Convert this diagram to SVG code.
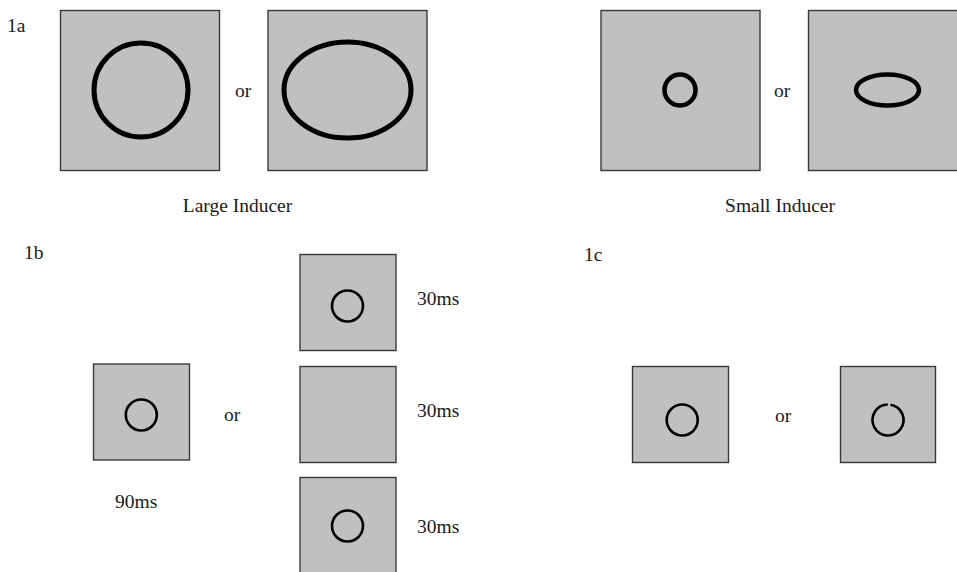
<svg xmlns="http://www.w3.org/2000/svg" width="957" height="572" viewBox="0 0 957 572">
<style>
.bg{fill:#ffffff}
.box{fill:#c0c0c0;stroke:#3a3a3a;stroke-width:1.4}
.thick{fill:none;stroke:#000;stroke-width:5}
.mid{fill:none;stroke:#000;stroke-width:4.5}
.thin{fill:none;stroke:#000;stroke-width:2.6}
text{font-family:"Liberation Serif","Times New Roman",serif;font-size:19.5px;fill:#1a1a1a}
</style>
<rect class="bg" x="0" y="0" width="957" height="572"/>
<g id="labels">
<text x="7" y="32">1a</text>
<text x="24" y="259">1b</text>
<text x="584" y="261">1c</text>
<text x="237.5" y="212" text-anchor="middle">Large Inducer</text>
<text x="780" y="212" text-anchor="middle">Small Inducer</text>
</g>
<g id="large-circle">
<rect class="box" x="60.5" y="10.5" width="159" height="160"/>
<circle class="thick" cx="141" cy="90" r="47"/>
</g>
<text x="235" y="97">or</text>
<g id="large-ellipse">
<rect class="box" x="268" y="10.5" width="159" height="160"/>
<ellipse class="thick" cx="347.5" cy="90" rx="63.5" ry="48"/>
</g>
<g id="small-circle">
<rect class="box" x="601" y="10.5" width="159" height="160"/>
<circle class="mid" cx="680" cy="90" r="15.5"/>
</g>
<text x="774" y="97">or</text>
<g id="small-ellipse">
<rect class="box" x="808.5" y="10.5" width="160" height="160"/>
<ellipse class="mid" cx="887.5" cy="90" rx="31.5" ry="15.5"/>
</g>
<g id="b-90ms">
<rect class="box" x="93.5" y="364" width="96" height="96"/>
<circle class="thin" cx="141.3" cy="415" r="15.5"/>
<text x="115" y="508">90ms</text>
</g>
<text x="224" y="421">or</text>
<g id="b-30ms-1">
<rect class="box" x="300" y="254.5" width="96" height="96"/>
<circle class="thin" cx="347.5" cy="306" r="15.5"/>
<text x="417" y="305">30ms</text>
</g>
<g id="b-30ms-2">
<rect class="box" x="300" y="366.5" width="96" height="96"/>
<text x="417" y="417">30ms</text>
</g>
<g id="b-30ms-3">
<rect class="box" x="300" y="477.5" width="96" height="110"/>
<circle class="thin" cx="347.5" cy="526" r="15.5"/>
<text x="417" y="533">30ms</text>
</g>
<g id="c-closed">
<rect class="box" x="632.5" y="366.5" width="96" height="96"/>
<circle class="thin" cx="682.2" cy="420" r="15.5"/>
</g>
<text x="775" y="422">or</text>
<g id="c-gap">
<rect class="box" x="840.5" y="366.5" width="95" height="96"/>
<path class="thin" d="M 890.5 404.7 A 15.5 15.5 0 1 1 887.8 404.5"/>
</g>
<g id="connectors"></g>
</svg>
